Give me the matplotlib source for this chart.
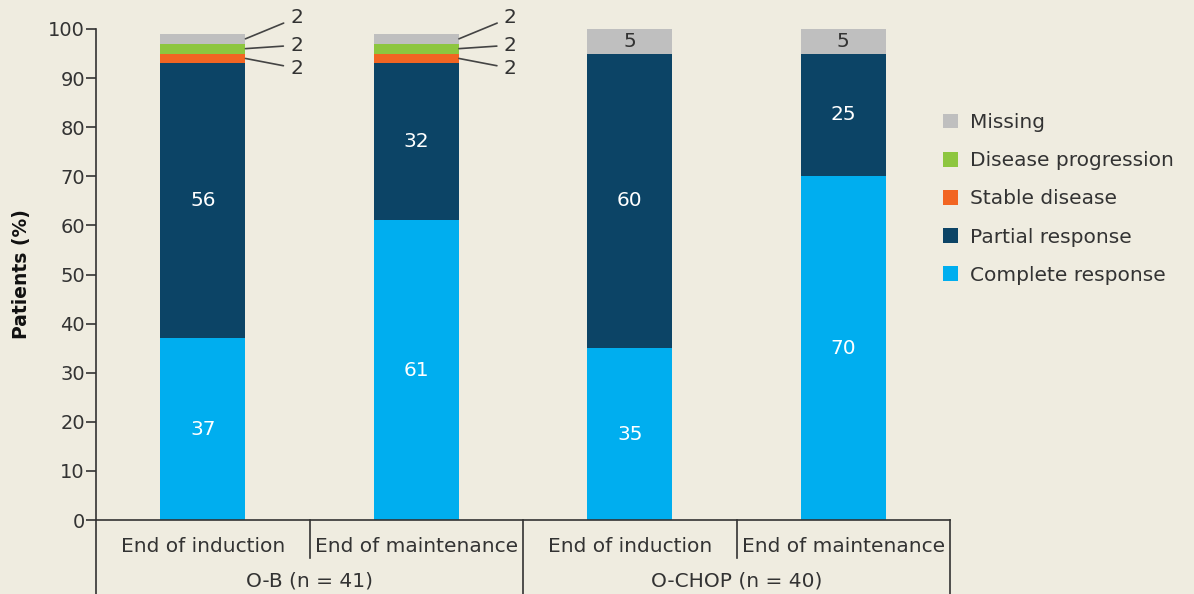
import matplotlib.pyplot as plt
from matplotlib.patches import Patch
import matplotlib.transforms as mtransforms

# data
timepoints = ['End of induction', 'End of maintenance', 'End of induction', 'End of maintenance']
groups = ['O-B (n = 41)', 'O-CHOP (n = 40)']
categories = ['Complete response', 'Partial response', 'Stable disease', 'Disease progression', 'Missing']
complete = [37, 61, 35, 70]
partial = [56, 32, 60, 25]
stable = [2, 2, 0, 0]
progression = [2, 2, 0, 0]
missing = [2, 2, 5, 5]

colors = ['#00aeef', '#0c4466', '#f26522', '#8dc63f', '#bfbfbf']
bg = '#efece0'
txt = '#333333'
font_size = 14.5

plt.rcParams['font.family'] = ['DejaVu Sans']

fig = plt.figure(figsize=(11.94, 5.94), dpi=100, facecolor=bg)
ax = fig.add_axes([96 / 1194, 1 - 520 / 594, (950 - 96) / 1194, 491 / 594])
ax.set_facecolor(bg)

x = list(range(len(timepoints)))
series = [complete, partial, stable, progression, missing]
bottom = [0] * len(x)
bar_w = 0.40
for vals, col, name in zip(series, colors, categories):
    ax.bar(x, vals, bar_w, bottom=bottom, color=col, label=name, zorder=2)
    for i in x:
        v = vals[i]
        mid = bottom[i] + v / 2
        if name in ('Complete response', 'Partial response'):
            ax.text(i, mid, str(v), ha='center', va='center', color='white', fontsize=font_size)
        elif name == 'Missing' and v >= 5:
            ax.text(i, mid, str(v), ha='center', va='center', color=txt, fontsize=font_size)
    bottom = [b + v for b, v in zip(bottom, vals)]

# leader lines for the small segments of the O-B bars
text_offsets = {'Missing': 102.3, 'Disease progression': 96.7, 'Stable disease': 92.0}
for i in x:
    base = complete[i] + partial[i]
    for name, vals in [('Stable disease', stable), ('Disease progression', progression), ('Missing', missing)]:
        v = vals[i]
        if v == 0 or (name == 'Missing' and v >= 5):
            base += v
            continue
        mid = base + v / 2
        ax.annotate(str(v), xy=(i + bar_w / 2, mid), xytext=(i + 0.41, text_offsets[name]),
                    ha='left', va='center', fontsize=font_size, color=txt,
                    arrowprops=dict(arrowstyle='-', color='#444444', lw=1.2,
                                    shrinkA=3, shrinkB=0),
                    annotation_clip=False)
        base += v

ax.set_xlim(-0.5, 3.5)
ax.set_ylim(0, 100)
ax.set_yticks(range(0, 101, 10))
ax.set_xticks([])
ax.tick_params(axis='y', direction='out', length=7, width=1.2, colors='#333333',
               labelsize=14, pad=1)
for s in ['top', 'right']:
    ax.spines[s].set_visible(False)
for s in ['left', 'bottom']:
    ax.spines[s].set_color('#333333')
    ax.spines[s].set_linewidth(1.2)
ax.spines['left'].set_bounds(0, 100)
ax.set_ylabel('Patients (%)', fontsize=13.5, fontweight='bold', color='#111111', labelpad=12)

# category table below the axis
trans = mtransforms.blended_transform_factory(ax.transData, ax.transAxes)
row1 = -0.053
row2 = -0.124
for i, lab in enumerate(timepoints):
    ax.text(i, row1, lab, transform=trans, ha='center', va='center', fontsize=font_size, color=txt)
for g, lab in enumerate(groups):
    ax.text(2 * g + 0.5, row2, lab, transform=trans, ha='center', va='center', fontsize=font_size, color=txt)
line_kw = dict(transform=trans, color='#333333', lw=1.2, clip_on=False)
for xs in [-0.5, 1.5, 3.5]:
    ax.plot([xs, xs], [0, -0.16], **line_kw)
for xs in [0.5, 2.5]:
    ax.plot([xs, xs], [0, -0.077], **line_kw)

handles = [Patch(facecolor=c, edgecolor='none', label=n) for c, n in zip(colors, categories)][::-1]
fig.legend(handles=handles, loc='upper left', bbox_to_anchor=(925 / 1194, 1 - 95 / 594),
           frameon=False, fontsize=font_size, handlelength=0.75, handleheight=0.75,
           handletextpad=0.6, labelspacing=0.95, labelcolor=txt)

fig.savefig('out.png', dpi=100, facecolor=bg)
